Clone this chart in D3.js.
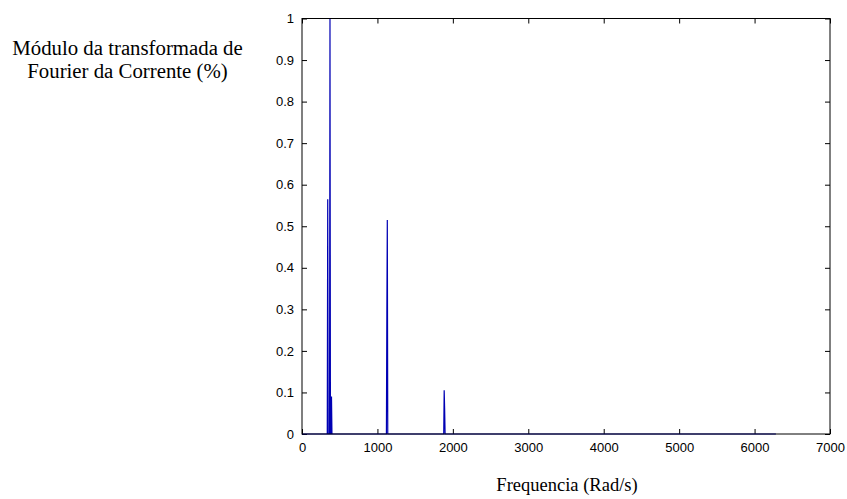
<!DOCTYPE html>
<html>
<head>
<meta charset="utf-8">
<script src="https://cdn.jsdelivr.net/npm/d3@7"></script>
<style>
  body { margin: 0; background: #fff; }
  svg { display: block; }
  .tick text { font-family: "Liberation Sans", Arial, sans-serif; font-size: 13px; fill: #000; }
  .lbl { font-family: "Liberation Serif", "Times New Roman", serif; fill: #000; }
</style>
</head>
<body>
<svg width="847" height="499"></svg>
<script>
// spectrum samples (rad/s) and magnitude; baseline kept at zero between the harmonics
var freq = [0, 335, 341, 347, 365, 371, 377, 385, 391, 397, 1119, 1125, 1131, 1137, 1879, 1885, 1891, 1897, 6283];
var amp  = [0, 0,   0.565, 0, 0,   1.0, 0,   0,   0.09, 0,  0,    0.29, 0.515, 0,   0,    0.105, 0.06, 0,    0];

var xTicks = [0, 1000, 2000, 3000, 4000, 5000, 6000, 7000];
var yTicks = [0, 0.1, 0.2, 0.3, 0.4, 0.5, 0.6, 0.7, 0.8, 0.9, 1];

var svg = d3.select("svg");

var x = d3.scaleLinear().domain([0, 7000]).range([302, 830]);
var y = d3.scaleLinear().domain([0, 1]).range([434, 18.5]);

var fmt = function (d) { return d === 0 || d === 1 ? d : d3.format(".1f")(d); };

// bottom and top axes
svg.append("g")
  .attr("transform", "translate(0," + y(0) + ")")
  .call(d3.axisBottom(x).tickValues(xTicks).tickSize(-5).tickPadding(9).tickFormat(d3.format("d")))
  .call(function (g) { g.select(".domain").remove(); });

svg.append("g")
  .attr("transform", "translate(0," + y(1) + ")")
  .call(d3.axisTop(x).tickValues(xTicks).tickSize(-5).tickFormat(""))
  .call(function (g) { g.select(".domain").remove(); });

// left and right axes
svg.append("g")
  .attr("transform", "translate(" + x(0) + ",0)")
  .call(d3.axisLeft(y).tickValues(yTicks).tickSize(-5).tickPadding(8).tickFormat(fmt))
  .call(function (g) { g.select(".domain").remove(); });

svg.append("g")
  .attr("transform", "translate(" + x(7000) + ",0)")
  .call(d3.axisRight(y).tickValues(yTicks).tickSize(-5).tickFormat(""))
  .call(function (g) { g.select(".domain").remove(); });

svg.selectAll(".tick line").attr("stroke", "#000");

// spectrum line
var pts = freq.map(function (f, i) { return [f, amp[i]]; });
svg.append("path")
  .datum(pts)
  .attr("fill", "none")
  .attr("stroke", "#0000b4")
  .attr("stroke-width", 1.2)
  .attr("d", d3.line().x(function (d) { return x(d[0]); }).y(function (d) { return y(d[1]); }));

// box
svg.append("rect")
  .attr("x", x(0)).attr("y", y(1))
  .attr("width", x(7000) - x(0)).attr("height", y(0) - y(1))
  .attr("fill", "none").attr("stroke", "#000").attr("stroke-width", 1);

// labels
svg.append("text").attr("class", "lbl").attr("font-size", "20.8px").attr("x", 127.5).attr("y", 55)
  .attr("text-anchor", "middle").text("Módulo da transformada de");
svg.append("text").attr("class", "lbl").attr("font-size", "20.8px").attr("x", 127.5).attr("y", 78)
  .attr("text-anchor", "middle").text("Fourier da Corrente (%)");
svg.append("text").attr("class", "lbl").attr("font-size", "18.5px").attr("x", 567).attr("y", 491)
  .attr("text-anchor", "middle").text("Frequencia (Rad/s)");
</script>
</body>
</html>
